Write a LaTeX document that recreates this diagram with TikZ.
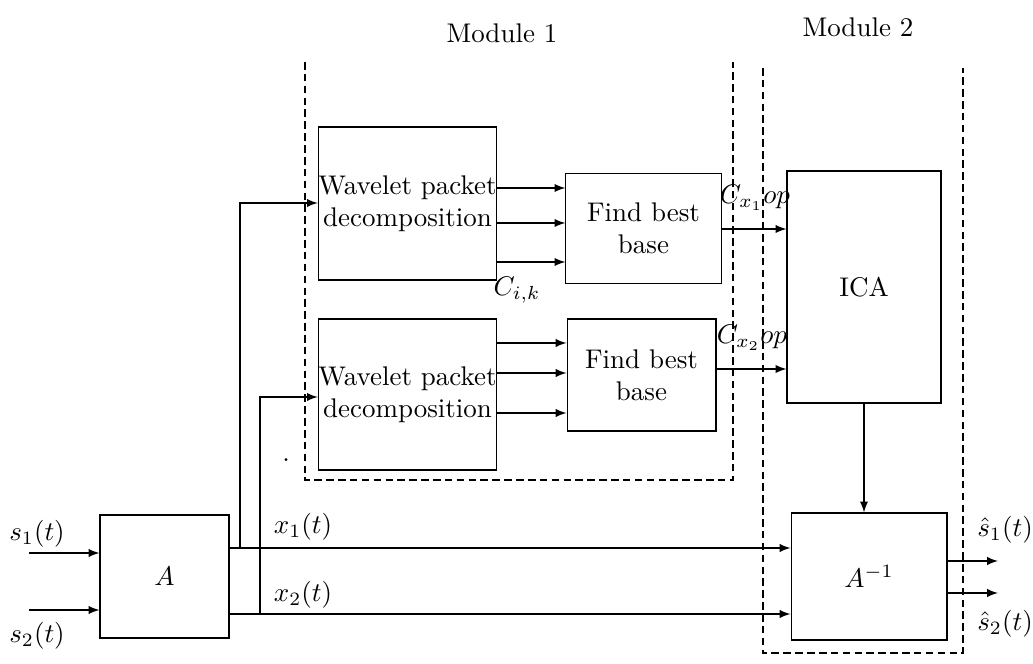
\documentclass[tikz,border=0pt]{standalone}
\usetikzlibrary{arrows}
\begin{document}
\begin{tikzpicture}[x=0.3707pt,y=-0.3707pt,>=latex,
  blk/.style={draw, inner sep=0pt, align=center},
  dsh/.style={dash pattern=on 2.8pt off 1.6pt},
  lbl/.style={inner sep=0pt}]
\useasboundingbox (0,0) rectangle (1033,664);
% blocks
\node[blk, minimum width=64.9pt, minimum height=56.7pt] (wpd1) at (407.5,203.5) {Wavelet packet\\decomposition};
\node[blk, minimum width=64.9pt, minimum height=56.0pt] (wpd2) at (407.5,394.5) {Wavelet packet\\decomposition};
\node[blk, minimum width=57.5pt, minimum height=41.1pt] (fbb1) at (643.5,228.5) {Find best\\base};
\node[blk, minimum width=55.2pt, minimum height=41.5pt] (fbb2) at (641.5,375) {Find best\\base};
\node[blk, minimum width=57.1pt, minimum height=86.0pt] (ica) at (864,287) {ICA};
\node[blk, minimum width=57.8pt, minimum height=47.1pt] (ainv) at (869,576.5) {$A^{-1}$};
\node[blk, minimum width=47.8pt, minimum height=45.6pt] (A) at (164.5,576.5) {$A$};
% labels
\node[lbl] (mod1) at (502,33) {Module 1};
\node[lbl] (mod2) at (858,27) {Module 2};
\node[lbl] (ls1) at (37,534) {$s_1(t)$};
\node[lbl] (ls2) at (37,636) {$s_2(t)$};
\node[lbl] (lx1) at (303,527) {$x_1(t)$};
\node[lbl] (lx2) at (303,595) {$x_2(t)$};
\node[lbl] (lcik) at (517,290) {$C_{i,k}$};
\node[lbl] (lc1) at (755,198) {$C_{x_1}op$};
\node[lbl] (lc2) at (752,338) {$C_{x_2}op$};
\node[lbl] (lo1) at (1005,530) {$\hat{s}_1(t)$};
\node[lbl] (lo2) at (1005,624) {$\hat{s}_2(t)$};
\node[lbl] (dot) at (286,460) {.};
% coordinates
\coordinate (in1) at (29,553);
\coordinate (in2) at (29,610);
\coordinate (j1) at (240,548);
\coordinate (j2) at (260,614);
\coordinate (o1) at (998,561);
\coordinate (o2) at (998,593);
% dashed module frames
\draw[dsh] (305,62) -- (305,480) -- (733,480) -- (733,62);
\draw[dsh] (763,68) -- (763,653) -- (963,653) -- (963,68);
% connectors
\draw[->] (in1) -- (A.west |- in1);
\draw[->] (in2) -- (A.west |- in2);
\draw[->] (A.east |- j1) -- (ainv.west |- j1);
\draw[->] (A.east |- j2) -- (ainv.west |- j2);
\draw[->] (j1) |- (wpd1.west |- 0,203);
\draw[->] (j2) |- (wpd2.west |- 0,397);
\foreach \yy in {188,223,262} \draw[->] (wpd1.east |- 0,\yy) -- (fbb1.west |- 0,\yy);
\foreach \yy in {343,373,413} \draw[->] (wpd2.east |- 0,\yy) -- (fbb2.west |- 0,\yy);
\draw[->] (fbb1.east |- 0,229) -- (ica.west |- 0,229);
\draw[->] (fbb2.east |- 0,369) -- (ica.west |- 0,369);
\draw[->] (ica.south) -- (ica.south |- ainv.north);
\draw[->] (ainv.east |- o1) -- (o1);
\draw[->] (ainv.east |- o2) -- (o2);
\end{tikzpicture}
\end{document}
